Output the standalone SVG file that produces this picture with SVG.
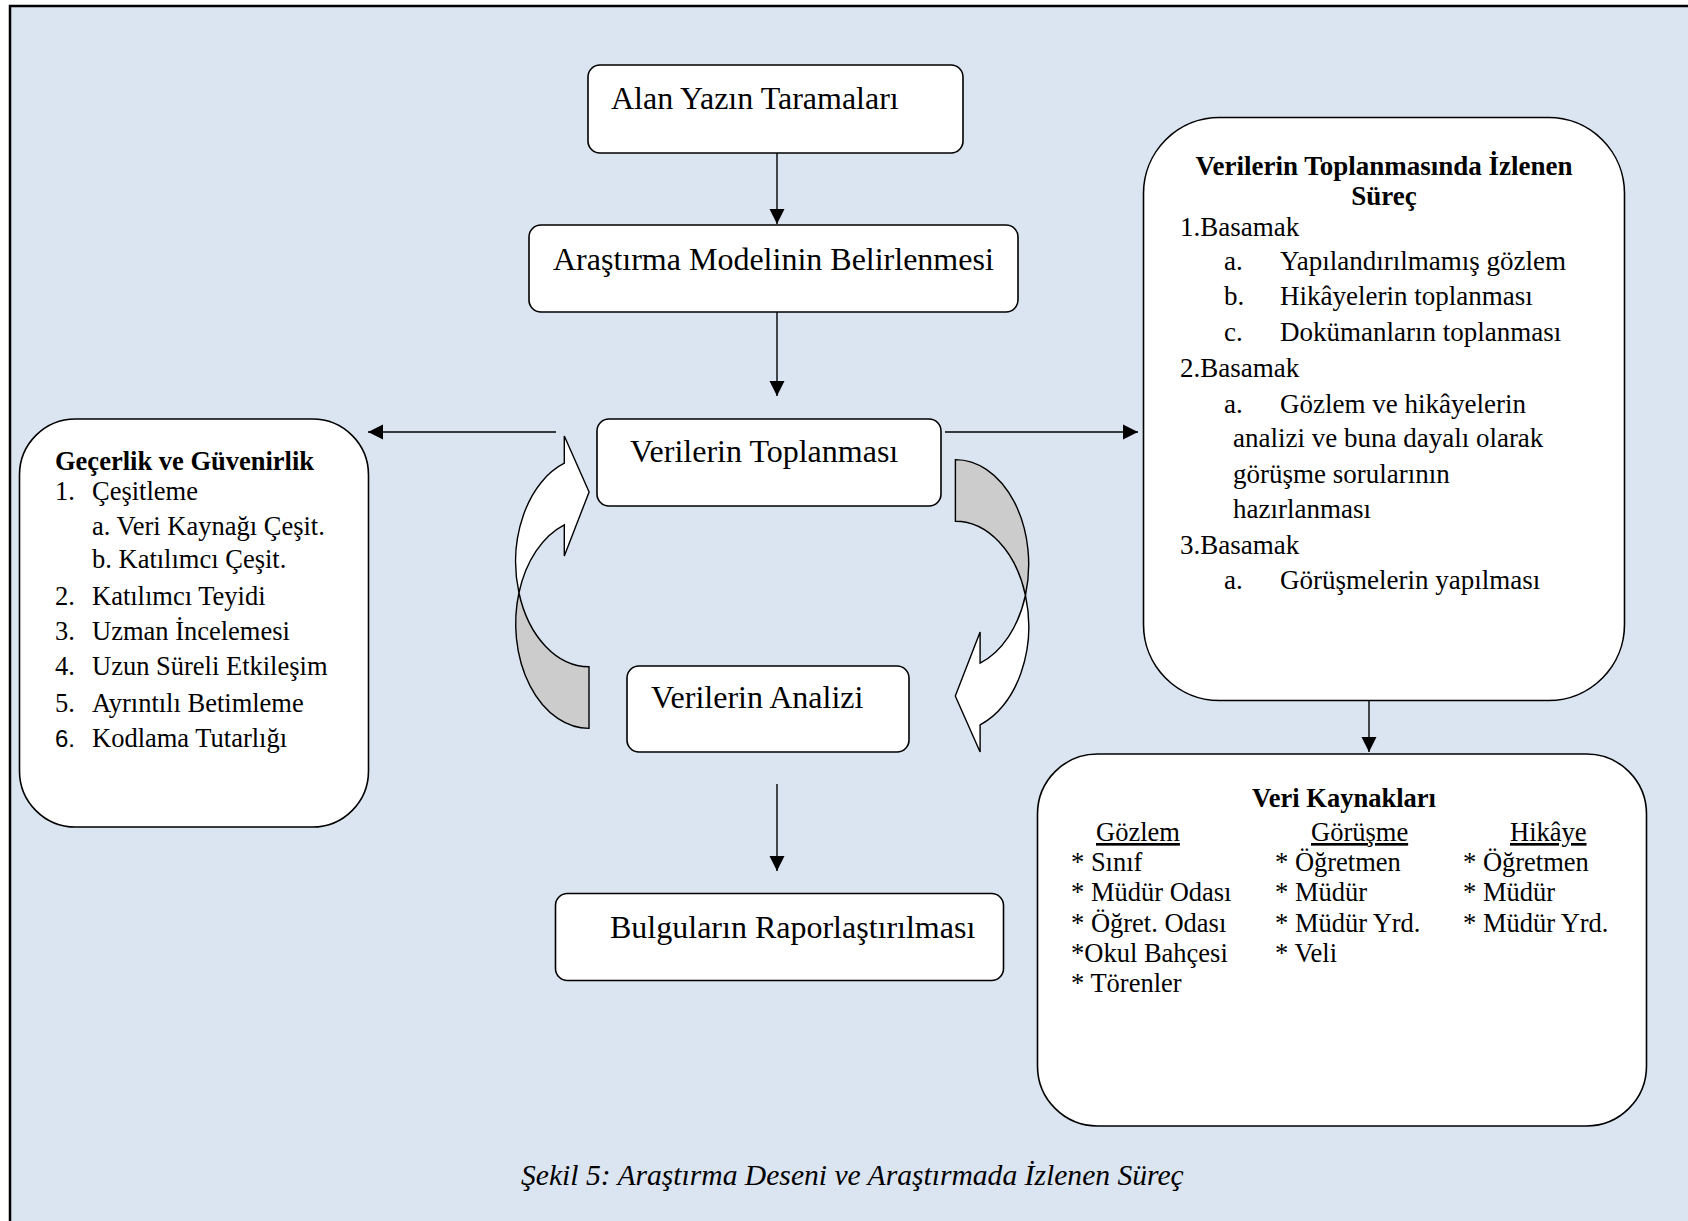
<svg xmlns="http://www.w3.org/2000/svg" width="1688" height="1221" viewBox="0 0 1688 1221">
<defs>
<style>
.bg{fill:#dbe5f1;stroke:#000;stroke-width:2.5}
.box{fill:#fff;stroke:#000;stroke-width:1.6}
.t{font-family:"Liberation Serif","Times New Roman",serif;fill:#000}
.big{font-size:32px}
.mid{font-size:26.5px}
.rb{font-size:27px}
.b{font-weight:bold}
.c{text-anchor:middle}
.u{text-decoration:underline}
.cap{font-size:29.6px;font-style:italic}
.sans{font-family:"Liberation Sans",Arial,sans-serif;font-size:24px}
.ln{stroke:#000;stroke-width:1.4;fill:none}
.wh{fill:#fff;stroke:#000;stroke-width:1.4}
.gr{fill:#cccccc;stroke:#000;stroke-width:1.4}
</style>
<marker id="ah" markerUnits="userSpaceOnUse" markerWidth="16" markerHeight="16" viewBox="0 0 16 16" refX="15" refY="8" orient="auto">
<path d="M0,0.5 L15,8 L0,15.5 Z" fill="#000"/>
</marker>
</defs>
<rect x="0" y="0" width="1688" height="1221" fill="#fff"/>
<rect class="bg" x="10" y="6" width="1700" height="1240"/>

<g id="connectors">
<line class="ln" x1="777" y1="153" x2="777" y2="224" marker-end="url(#ah)"/>
<line class="ln" x1="777" y1="312" x2="777" y2="396" marker-end="url(#ah)"/>
<line class="ln" x1="556" y1="432" x2="368" y2="432" marker-end="url(#ah)"/>
<line class="ln" x1="945" y1="432" x2="1138" y2="432" marker-end="url(#ah)"/>
<line class="ln" x1="777" y1="784" x2="777" y2="871" marker-end="url(#ah)"/>
<line class="ln" x1="1369" y1="701" x2="1369" y2="752" marker-end="url(#ah)"/>
<g id="cycle-left">
<path class="wh" d="M518.95,592.75 A73.3,104.8 0 0 1 564.3,463.2 L564.3,436 L589.1,492 L564.3,556 L564.3,524.9 A73.3,104.8 0 0 0 518.95,592.75 Z"/>
<path class="gr" d="M518.95,592.75 A73.3,104.8 0 0 0 589,728.4 L589,666.7 A73.3,104.8 0 0 1 518.95,592.75 Z"/>
</g>
<g id="cycle-right" transform="rotate(180 772.2 594)">
<path class="wh" d="M518.95,592.75 A73.3,104.8 0 0 1 564.3,463.2 L564.3,436 L589.1,492 L564.3,556 L564.3,524.9 A73.3,104.8 0 0 0 518.95,592.75 Z"/>
<path class="gr" d="M518.95,592.75 A73.3,104.8 0 0 0 589,728.4 L589,666.7 A73.3,104.8 0 0 1 518.95,592.75 Z"/>
</g>
</g>

<g id="alan">
<rect class="box" x="588" y="65" width="375" height="88" rx="12"/>
<text class="t big" x="611" y="109">Alan Yazın Taramaları</text>
</g>
<g id="model">
<rect class="box" x="529" y="225" width="489" height="87" rx="12"/>
<text class="t big" x="553" y="270">Araştırma Modelinin Belirlenmesi</text>
</g>
<g id="toplanmasi">
<rect class="box" x="597" y="419" width="344" height="87" rx="12"/>
<text class="t big" x="630" y="462">Verilerin Toplanması</text>
</g>
<g id="analizi">
<rect class="box" x="627" y="666" width="282" height="86" rx="12"/>
<text class="t big" x="651" y="708">Verilerin Analizi</text>
</g>
<g id="bulgular">
<rect class="box" x="555.5" y="893.5" width="448" height="87" rx="12"/>
<text class="t big" x="610" y="938">Bulguların Raporlaştırılması</text>
</g>

<g id="gecerlik">
<rect class="box" x="19.5" y="419" width="349" height="408" rx="56"/>
<text class="t mid b" x="55" y="470">Geçerlik ve Güvenirlik</text>
<text class="t mid" x="55" y="500">1.</text><text class="t mid" x="92" y="500">Çeşitleme</text>
<text class="t mid" x="92" y="535">a. Veri Kaynağı Çeşit.</text>
<text class="t mid" x="92" y="568">b. Katılımcı Çeşit.</text>
<text class="t mid" x="55" y="605">2.</text><text class="t mid" x="92" y="605">Katılımcı Teyidi</text>
<text class="t mid" x="55" y="640">3.</text><text class="t mid" x="92" y="640">Uzman İncelemesi</text>
<text class="t mid" x="55" y="675">4.</text><text class="t mid" x="92" y="675">Uzun Süreli Etkileşim</text>
<text class="t mid" x="55" y="712">5.</text><text class="t mid" x="92" y="712">Ayrıntılı Betimleme</text>
<text class="sans" x="55" y="747">6.</text><text class="t mid" x="92" y="747">Kodlama Tutarlığı</text>
</g>

<g id="surec">
<rect class="box" x="1143.5" y="117.5" width="481" height="583" rx="76"/>
<text class="t rb b c" x="1384" y="175">Verilerin Toplanmasında İzlenen</text>
<text class="t rb b c" x="1384" y="205">Süreç</text>
<text class="t rb" x="1180" y="236">1.Basamak</text>
<text class="t rb" x="1224" y="270">a.</text><text class="t rb" x="1280" y="270">Yapılandırılmamış gözlem</text>
<text class="t rb" x="1224" y="305">b.</text><text class="t rb" x="1280" y="305">Hikâyelerin toplanması</text>
<text class="t rb" x="1224" y="341">c.</text><text class="t rb" x="1280" y="341">Dokümanların toplanması</text>
<text class="t rb" x="1180" y="377">2.Basamak</text>
<text class="t rb" x="1224" y="413">a.</text><text class="t rb" x="1280" y="413">Gözlem ve hikâyelerin</text>
<text class="t rb" x="1233" y="447">analizi ve buna dayalı olarak</text>
<text class="t rb" x="1233" y="483">görüşme sorularının</text>
<text class="t rb" x="1233" y="518">hazırlanması</text>
<text class="t rb" x="1180" y="554">3.Basamak</text>
<text class="t rb" x="1224" y="589">a.</text><text class="t rb" x="1280" y="589">Görüşmelerin yapılması</text>
</g>

<g id="kaynaklar">
<rect class="box" x="1037.5" y="754" width="609" height="372" rx="60"/>
<text class="t mid b c" x="1344" y="807">Veri Kaynakları</text>
<text class="t mid u" x="1096" y="841">Gözlem</text>
<text class="t mid u" x="1311" y="841">Görüşme</text>
<text class="t mid u" x="1510" y="841">Hikâye</text>
<text class="t mid" x="1071" y="871">* Sınıf</text>
<text class="t mid" x="1071" y="901">* Müdür Odası</text>
<text class="t mid" x="1071" y="932">* Öğret. Odası</text>
<text class="t mid" x="1071" y="962">*Okul Bahçesi</text>
<text class="t mid" x="1071" y="992">* Törenler</text>
<text class="t mid" x="1275" y="871">* Öğretmen</text>
<text class="t mid" x="1275" y="901">* Müdür</text>
<text class="t mid" x="1275" y="932">* Müdür Yrd.</text>
<text class="t mid" x="1275" y="962">* Veli</text>
<text class="t mid" x="1463" y="871">* Öğretmen</text>
<text class="t mid" x="1463" y="901">* Müdür</text>
<text class="t mid" x="1463" y="932">* Müdür Yrd.</text>
</g>

<text class="t cap" x="521" y="1185">Şekil 5: Araştırma Deseni ve Araştırmada İzlenen Süreç</text>
</svg>
